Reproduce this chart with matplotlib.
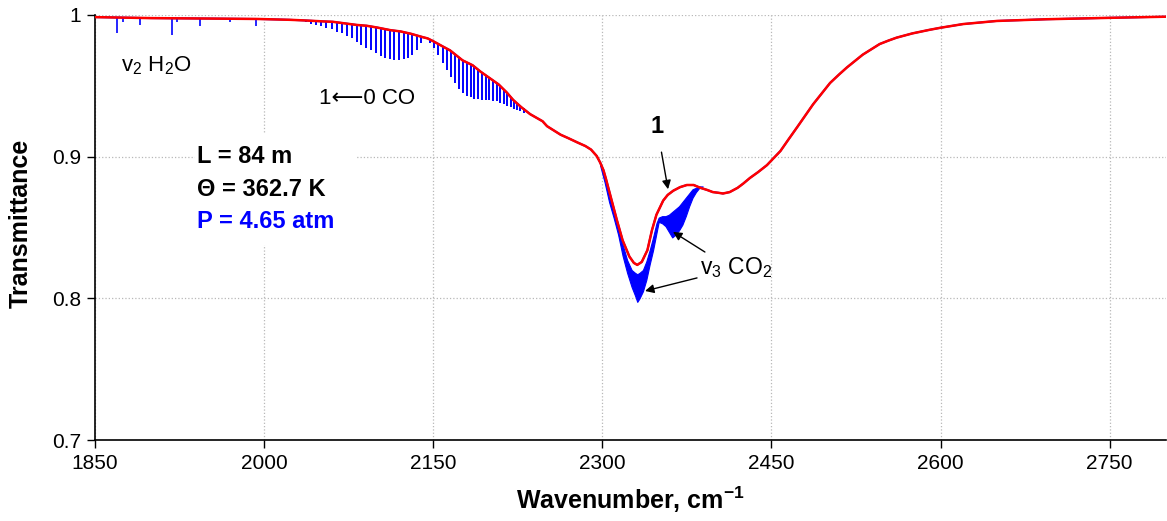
import matplotlib
matplotlib.use("Agg")
import matplotlib.pyplot as plt
from matplotlib.patches import Rectangle

# smooth (red) spectrum
red_wn = [1850, 1900, 1950, 1994, 2023, 2035, 2052, 2061, 2082, 2091, 2100, 2112,
          2121, 2130, 2141, 2145, 2150, 2158, 2165, 2176, 2185, 2192, 2200, 2208,
          2215, 2221, 2228, 2236, 2247, 2251, 2263, 2270, 2278, 2285, 2290, 2295,
          2298, 2301, 2303, 2307, 2313, 2318, 2324, 2328, 2331, 2335, 2340, 2344,
          2348, 2354, 2358, 2363, 2369, 2375, 2381, 2387, 2393, 2398, 2403, 2407,
          2413, 2420, 2425, 2431, 2438, 2446, 2452, 2458, 2465, 2473, 2480, 2487,
          2495, 2502, 2510, 2517, 2524, 2531, 2539, 2546, 2554, 2561, 2575, 2590,
          2600, 2620, 2650, 2694, 2750, 2800]
red_tr = [0.9985, 0.9978, 0.9975, 0.9972, 0.9966, 0.9962, 0.9955, 0.9952, 0.9930,
          0.9924, 0.9912, 0.9893, 0.9884, 0.9868, 0.9843, 0.9835, 0.9815, 0.9780,
          0.9750, 0.9680, 0.9645, 0.9600, 0.9555, 0.9510, 0.9455, 0.9400, 0.9350,
          0.9300, 0.9250, 0.9215, 0.9155, 0.9130, 0.9100, 0.9075, 0.9050, 0.9005,
          0.8960, 0.8905, 0.8850, 0.8730, 0.8550, 0.8410, 0.8295, 0.8250, 0.8236,
          0.8257, 0.8340, 0.8480, 0.8590, 0.8690, 0.8730, 0.8760, 0.8785, 0.8800,
          0.8800, 0.8780, 0.8765, 0.8750, 0.8745, 0.8740, 0.8750, 0.8780, 0.8810,
          0.8850, 0.8890, 0.8940, 0.8990, 0.9040, 0.9120, 0.9210, 0.9290, 0.9370,
          0.9450, 0.9520, 0.9580, 0.9630, 0.9675, 0.9720, 0.9760, 0.9795, 0.9820,
          0.9840, 0.9870, 0.9895, 0.9910, 0.9936, 0.9958, 0.9970, 0.9980, 0.9988]

# water lines (blue spikes)
h2o_wn = [1869.2, 1875, 1890, 1918, 1923, 1943, 1970, 1992.5]
h2o_top = [0.998, 0.998, 0.998, 0.9977, 0.9977, 0.9976, 0.9974, 0.9972]
h2o_min = [0.987, 0.995, 0.993, 0.986, 0.995, 0.9925, 0.995, 0.9925]

# CO 1<-0 lines, P and R branches
co_wn = [2032.2, 2036.8, 2041.5, 2046.1, 2050.7, 2055.3, 2059.8, 2064.3, 2068.8,
         2073.2, 2077.6, 2082.0, 2086.3, 2090.7, 2094.9, 2099.1, 2103.3, 2107.4,
         2111.5, 2115.6, 2119.7, 2123.7, 2127.7, 2131.6, 2135.5, 2139.4,
         2147.1, 2150.9, 2154.6, 2158.3, 2162.0, 2165.6, 2169.2, 2172.8, 2176.3,
         2179.8, 2183.2, 2186.6, 2190.0, 2193.4, 2196.7, 2199.9, 2203.1, 2206.3,
         2209.4, 2212.5, 2215.6, 2218.6, 2221.6, 2224.5, 2227.4, 2230.3]
co_top = [0.9964, 0.9962, 0.9960, 0.9958, 0.9956, 0.9954, 0.9952, 0.9945, 0.9940,
          0.9936, 0.9933, 0.9930, 0.9927, 0.9924, 0.9919, 0.9913, 0.9906, 0.9898,
          0.9893, 0.9889, 0.9885, 0.9880, 0.9872, 0.9865, 0.9857, 0.9846,
          0.9830, 0.9812, 0.9795, 0.9780, 0.9763, 0.9745, 0.9720, 0.9700, 0.9678,
          0.9665, 0.9650, 0.9637, 0.9613, 0.9590, 0.9574, 0.9556, 0.9537, 0.9520,
          0.9500, 0.9475, 0.9450, 0.9422, 0.9395, 0.9375, 0.9360, 0.9345]
co_min = [0.9955, 0.995, 0.994, 0.993, 0.992, 0.991, 0.990, 0.988, 0.987,
          0.985, 0.984, 0.981, 0.979, 0.977, 0.975, 0.973, 0.971, 0.970,
          0.969, 0.968, 0.968, 0.969, 0.970, 0.972, 0.975, 0.980,
          0.980, 0.977, 0.972, 0.966, 0.961, 0.956, 0.952, 0.948, 0.945,
          0.943, 0.942, 0.941, 0.941, 0.940, 0.940, 0.940, 0.939, 0.939,
          0.938, 0.937, 0.936, 0.935, 0.934, 0.933, 0.932, 0.931]

# CO2 nu3 band: upper and lower edge of the dense blue lines
co2_wn = [2298, 2302, 2306, 2310, 2314, 2318, 2322, 2326, 2329, 2331, 2333, 2336,
          2339, 2342, 2345, 2348, 2350, 2353, 2356, 2359, 2362, 2365, 2368, 2371,
          2374, 2377, 2380, 2383, 2386, 2389]
co2_top = [0.896, 0.886, 0.873, 0.862, 0.850, 0.838, 0.827, 0.820, 0.818, 0.817,
           0.818, 0.820, 0.826, 0.834, 0.843, 0.853, 0.857, 0.858, 0.858, 0.859,
           0.861, 0.863, 0.865, 0.868, 0.871, 0.874, 0.877, 0.878, 0.879, 0.879]
co2_bot = [0.894, 0.882, 0.868, 0.857, 0.845, 0.830, 0.818, 0.808, 0.802, 0.7975,
           0.800, 0.805, 0.813, 0.824, 0.834, 0.846, 0.854, 0.853, 0.851, 0.847,
           0.843, 0.845, 0.848, 0.852, 0.858, 0.865, 0.871, 0.875, 0.878, 0.879]

x_ticks = [1850, 2000, 2150, 2300, 2450, 2600, 2750]
y_ticks = [0.7, 0.8, 0.9, 1.0]
y_tick_labels = ["0.7", "0.8", "0.9", "1"]

plt.rcParams["font.family"] = ["Liberation Sans", "DejaVu Sans"]
plt.rcParams["mathtext.fontset"] = "custom"
plt.rcParams["mathtext.rm"] = "Liberation Sans"
plt.rcParams["mathtext.it"] = "Liberation Sans:italic"
plt.rcParams["mathtext.bf"] = "Liberation Sans:bold"

fig = plt.figure(figsize=(11.67, 5.21), dpi=100)
ax = fig.add_axes([95 / 1167, 1 - 440 / 521, 1071 / 1167, 425 / 521])

# blue = high-resolution spectrum, red = smoothed one on top
ax.plot(red_wn, red_tr, color="blue", lw=1.4, zorder=3)
ax.vlines(h2o_wn, h2o_min, h2o_top, color="blue", lw=1.2, zorder=3)
ax.vlines(co_wn, co_min, co_top, color="blue", lw=1.4, zorder=3)
ax.fill_between(co2_wn, co2_bot, co2_top, color="blue", lw=0.8, zorder=3)
ax.plot(red_wn, red_tr, color="red", lw=1.8, zorder=4)

ax.set_xlim(1850, 2800)
ax.set_ylim(0.7, 1.0)
ax.set_xticks(x_ticks)
ax.set_yticks(y_ticks)
ax.set_yticklabels(y_tick_labels)
ax.tick_params(labelsize=15, length=6, width=1, direction="out", pad=4)
ax.grid(True, color="#b8b8b8", ls=":", lw=0.9)
ax.set_axisbelow(True)
for s in ["top", "right"]:
    ax.spines[s].set_visible(False)
for s in ["left", "bottom"]:
    ax.spines[s].set_linewidth(1.2)

ax.set_xlabel(r"Wavenumber, cm$^{\mathbf{-1}}$", fontsize=18, fontweight="bold")
ax.set_ylabel("Transmittance", fontsize=18, fontweight="bold")
ax.xaxis.set_label_coords(0.5, -0.105)
ax.yaxis.set_label_coords(-0.058, 0.51)

# white panel with conditions
ax.add_patch(Rectangle((1939, 0.838), 143, 0.079, facecolor="white",
                       edgecolor="none", zorder=2))
ax.text(1940.5, 0.8998, "L = 84 m", fontsize=17, fontweight="bold",
        va="center", zorder=5)
ax.text(1940.5, 0.8765, "\u0398 = 362.7 K", fontsize=17, fontweight="bold",
        va="center", zorder=5)
ax.text(1940.5, 0.8539, "P = 4.65 atm", fontsize=17, fontweight="bold",
        color="blue", va="center", zorder=5)

ax.text(1873, 0.964, r"v$_2$ H$_2$O", fontsize=16, va="center")
ax.text(2049, 0.9414, "1\u27f50 CO", fontsize=16, va="center")

arrow = dict(arrowstyle="-|>", color="black", lw=1, mutation_scale=13)
ax.annotate("1", xy=(2358.3, 0.877), xytext=(2348.5, 0.921), fontsize=17,
            fontweight="bold", ha="center", va="center", zorder=6,
            arrowprops=dict(arrow, shrinkA=8, shrinkB=0))
ax.text(2386.6, 0.822, r"v$_3$ CO$_2$", fontsize=16.5, va="center")
ax.annotate("", xy=(2362.7, 0.8469), xytext=(2391, 0.8327),
            arrowprops=dict(arrow, shrinkA=0, shrinkB=0), zorder=6)
ax.annotate("", xy=(2337.9, 0.8052), xytext=(2384, 0.8144),
            arrowprops=dict(arrow, shrinkA=0, shrinkB=0), zorder=6)

fig.savefig("out.png", dpi=100)
